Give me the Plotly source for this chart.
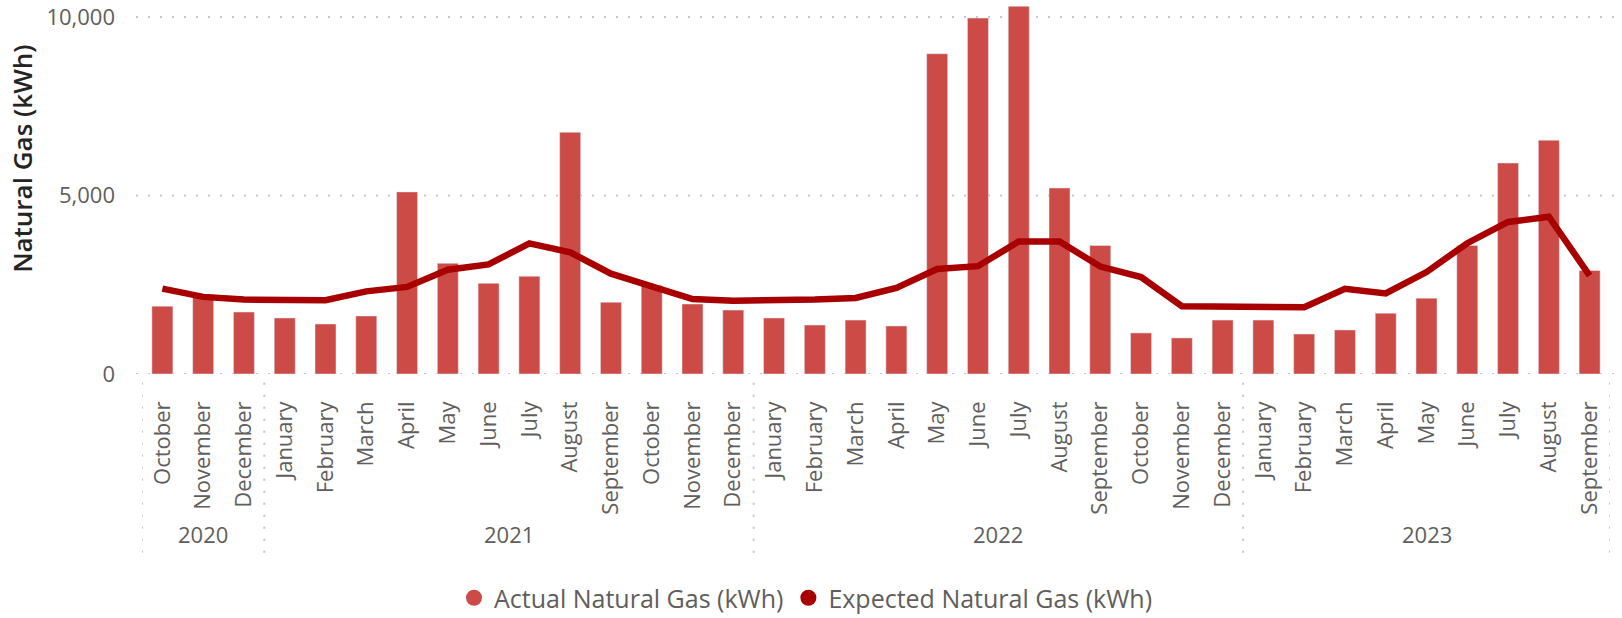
import plotly.graph_objects as go

# ---- data ----
years = ["2020", "2021", "2022", "2023"]
months_per_year = [
    ["October", "November", "December"],
    ["January", "February", "March", "April", "May", "June", "July", "August",
     "September", "October", "November", "December"],
    ["January", "February", "March", "April", "May", "June", "July", "August",
     "September", "October", "November", "December"],
    ["January", "February", "March", "April", "May", "June", "July", "August",
     "September"],
]
actual_gas = [
    1900, 2230, 1735,
    1570, 1400, 1625, 5100, 3100, 2540, 2740, 6770, 2010, 2480, 1960, 1790,
    1570, 1370, 1510, 1345, 8970, 9970, 10300, 5210, 3600, 1150, 1010, 1510,
    1510, 1120, 1235, 1705, 2125, 3600, 5910, 6550, 2900,
]
expected_gas = [
    2390, 2160, 2085,
    2060, 2065, 2315, 2440, 2920, 3070, 3660, 3410, 2810, 2440, 2100, 2050,
    2045, 2085, 2130, 2410, 2940, 3020, 3710, 3710, 3010, 2716, 1900, 1880,
    1872, 1868, 2385, 2255, 2856, 3663, 4258, 4406, 2755,
]
y_ticks = [0, 5000, 10000]

# ---- build category keys ----
keys, labels = [], []
for y, ms in zip(years, months_per_year):
    for m in ms:
        keys.append(f"{m} {y}")
        labels.append(m)

BAR_C = "#CD4B47"
LINE_C = "#A80000"
TXT = "#605E5C"
GRID = "#C8C6C4"
FONT = "Segoe UI, Open Sans, sans-serif"

W, H = 1622, 618
PL, PR = 142, 1610          # plot left/right in px
PLOT_T = 1
ZERO = 374.3                # y=0 in px
PLOT_H = ZERO - PLOT_T
PX_PER_UNIT = (ZERO - 17) / 10000

def py(page_px):  # page pixel y -> paper y
    return (ZERO - page_px) / PLOT_H

def px_(page_px):  # page pixel x -> paper x
    return (page_px - PL) / (PR - PL)

fig = go.Figure()
fig.add_trace(go.Bar(x=keys, y=actual_gas, marker_color=BAR_C,
                     name="Actual Natural Gas (kWh)", showlegend=False))
fig.add_trace(go.Scatter(x=keys, y=expected_gas, mode="lines",
                         line=dict(color=LINE_C, width=6.5),
                         name="Expected Natural Gas (kWh)", showlegend=False))
# legend entries with circle markers
fig.add_trace(go.Scatter(x=[None], y=[None], mode="markers",
                         marker=dict(symbol="circle", size=17, color=BAR_C),
                         name="Actual Natural Gas (kWh)"))
fig.add_trace(go.Scatter(x=[None], y=[None], mode="markers",
                         marker=dict(symbol="circle", size=17, color=LINE_C),
                         name="Expected Natural Gas (kWh)"))

# dotted horizontal gridlines (slightly wider than the plot, as in the reference)
for t in y_ticks:
    fig.add_shape(type="line", xref="paper", yref="y", x0=px_(136), x1=px_(1619),
                  y0=t, y1=t, layer="below",
                  line=dict(color=GRID, width=2, dash="2px,10px"))

# year separators and year labels
start = 0
bounds = [-0.5]
for y, ms in zip(years, months_per_year):
    n = len(ms)
    bounds.append(start + n - 0.5)
    fig.add_annotation(x=start + (n - 1) / 2, xref="x", y=py(534), yref="paper",
                       text=y, showarrow=False, yanchor="middle",
                       font=dict(family=FONT, size=22, color=TXT))
    start += n
for b in bounds:
    fig.add_shape(type="line", xref="x", yref="paper", x0=b, x1=b,
                  y0=py(383), y1=py(556),
                  line=dict(color=GRID, width=2, dash="2px,10px"))

# y-axis title
fig.add_annotation(x=px_(22), xref="paper", y=py(159), yref="paper",
                   text="Natural Gas (kWh)",
                   textangle=-90, showarrow=False, xanchor="center", yanchor="middle",
                   font=dict(family=FONT, size=26, color="#252423", weight=600))

fig.update_layout(
    width=W, height=H,
    margin=dict(l=PL, r=W - PR, t=PLOT_T, b=H - ZERO, autoexpand=False),
    plot_bgcolor="white", paper_bgcolor="white",
    bargap=0.485,
    font=dict(family=FONT, color=TXT),
    xaxis=dict(type="category", tickmode="array", tickvals=keys, ticktext=labels,
               tickangle=-90, showgrid=False, showline=False, ticks="",
               automargin=False,
               ticklabelstandoff=22, tickfont=dict(family=FONT, size=22, color=TXT),
               range=[-0.5, len(keys) - 0.5]),
    yaxis=dict(range=[0, PLOT_H / PX_PER_UNIT], tickmode="array", tickvals=y_ticks,
               tickformat=",", showgrid=False, zeroline=False, showline=False,
               ticks="", automargin=False, ticklabeloverflow="allow",
               ticklabelstandoff=26, tickfont=dict(family=FONT, size=22, color=TXT)),
    legend=dict(orientation="h", xref="container", yref="container",
                x=806 / W, xanchor="center", y=1 - 598 / H,
                yanchor="middle",
                font=dict(family=FONT, size=25, color=TXT),
                itemwidth=30, tracegroupgap=0),
)

fig.write_html("out.html", config={"displayModeBar": False},
               post_script="document.body.style.margin='0';"
                           "document.body.style.overflow='hidden';")
